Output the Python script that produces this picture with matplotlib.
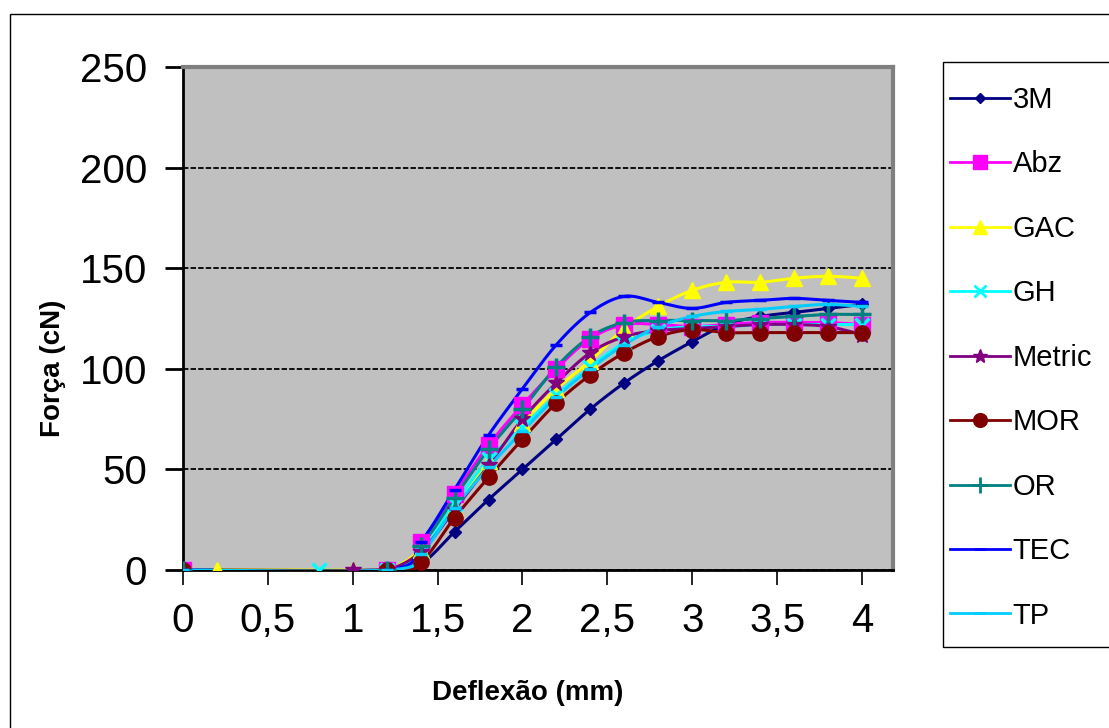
import numpy as np
import matplotlib
matplotlib.use("Agg")
import matplotlib.pyplot as plt
from matplotlib.patches import Rectangle

plt.rcParams['font.family'] = ['Liberation Sans', 'DejaVu Sans']

# deflexão (mm) comum a todos os fios, a partir de 1,2 mm
deflexao = [1.2, 1.4, 1.6, 1.8, 2.0, 2.2, 2.4, 2.6, 2.8, 3.0, 3.2, 3.4, 3.6, 3.8, 4.0]

# pontos iniciais (força nula) de cada fio
inicio_3m = [0.0]
inicio_abz = [0.0]
inicio_gac = [0.2, 1.0]
inicio_gh = [0.8]
inicio_metric = [1.0]
inicio_mor = [0.0]
inicio_or = [0.0]
inicio_tec = [0.0]
inicio_tp = [0.0]

# força (cN)
f_3m = [0, 3, 19, 35, 50, 65, 80, 93, 104, 113.5, 122, 126, 128, 130, 132]
f_abz = [0, 14, 38, 62, 82, 100, 115, 122, 122, 121, 122, 123, 123, 123, 122]
f_gac = [0, 10, 31, 54, 73, 90, 104, 120, 131, 139, 143, 143, 145, 146, 145]
f_gh = [0, 9, 33, 55, 71, 87, 101, 113, 119, 121, 121, 122, 122, 122, 122]
f_metric = [0, 9, 30, 52, 75, 93, 108, 116, 119, 120, 121, 122, 122, 121, 117]
f_mor = [0, 4, 26, 46, 65, 83, 97, 108, 116, 119.5, 118, 118, 118, 118, 118]
f_or = [0, 12, 36, 60, 80, 101, 116, 123, 124, 124, 124, 125, 126, 127, 127]
f_tec = [0, 14, 40, 67, 90, 112, 128, 136, 133, 130, 133, 134, 135, 134, 133]
f_tp = [0, 8, 31, 51, 69, 86, 100, 112, 121, 126, 128.5, 129.5, 131, 132, 131]

nomes = ['3M', 'Abz', 'GAC', 'GH', 'Metric', 'MOR', 'OR', 'TEC', 'TP']
inicios = [inicio_3m, inicio_abz, inicio_gac, inicio_gh, inicio_metric,
           inicio_mor, inicio_or, inicio_tec, inicio_tp]
forcas = [f_3m, f_abz, f_gac, f_gh, f_metric, f_mor, f_or, f_tec, f_tp]

cores = ['#000080', '#FF00FF', '#FFFF00', '#00FFFF', '#800080',
         '#800000', '#008080', '#0000FF', '#00CCFF']
marcadores = ['D', 's', '^', 'x', '*', 'o', '+', '_', '_']
tamanhos = [6, 11, 11, 10, 12, 11, 13, 9, 9]


def suaviza(x, y, n=12):
    # curva de Catmull-Rom passando pelos pontos (linha suavizada)
    x = np.asarray(x, float)
    y = np.asarray(y, float)
    px = np.concatenate([[x[0]], x, [x[-1]]])
    py = np.concatenate([[y[0]], y, [y[-1]]])
    xs, ys = [], []
    t = np.linspace(0, 1, n, endpoint=False)
    for i in range(1, len(px) - 2):
        for p, out in ((px, xs), (py, ys)):
            p0, p1, p2, p3 = p[i - 1], p[i], p[i + 1], p[i + 2]
            out.extend(0.5 * (2 * p1 + (-p0 + p2) * t
                              + (2 * p0 - 5 * p1 + 4 * p2 - p3) * t ** 2
                              + (-p0 + 3 * p1 - 3 * p2 + p3) * t ** 3))
    xs.append(x[-1])
    ys.append(y[-1])
    return np.array(xs), np.array(ys)


W, H = 1109, 728
fig = plt.figure(figsize=(W / 100, H / 100), dpi=100)
ax = fig.add_axes([183 / W, 1 - 570 / H, 710 / W, 503 / H])
ax.set_facecolor('#C0C0C0')

for nome, ini, f, cor, mk, ms in zip(nomes, inicios, forcas, cores, marcadores, tamanhos):
    x = list(ini) + deflexao
    y = [0] * len(ini) + f
    xs, ys = suaviza(x, y)
    ax.plot(xs, ys, color=cor, lw=2.2, zorder=3)
    ax.plot(x, y, ls='none', marker=mk, color=cor, ms=ms,
            mew=2.5 if mk in ('x', '+', '_') else 1, zorder=4)
    ax.plot([], [], color=cor, lw=2, marker=mk, ms=ms * 0.9,
            mew=2 if mk in ('x', '+', '_') else 1, label=nome)

ax.set_xlim(0, 4.183)
ax.set_ylim(0, 250)
ax.set_xticks(np.arange(0, 4.01, 0.5))
ax.set_xticklabels(['0', '0,5', '1', '1,5', '2', '2,5', '3', '3,5', '4'])
ax.set_yticks([0, 50, 100, 150, 200, 250])
ax.yaxis.grid(True, color='black', ls=(0, (3, 1.2)), lw=1.3)
ax.set_axisbelow(True)

ax.tick_params(axis='y', length=13, width=2, pad=13, labelsize=29)
ax.tick_params(axis='x', length=11, width=1.2, pad=12, labelsize=29)

for lado in ('left', 'bottom'):
    ax.spines[lado].set_color('black')
    ax.spines[lado].set_linewidth(2)
for lado in ('top', 'right'):
    ax.spines[lado].set_color('#808080')
    ax.spines[lado].set_linewidth(3)

ax.set_xlabel('Deflexão (mm)', fontsize=20, fontweight='bold')
ax.set_ylabel('Força (cN)', fontsize=20, fontweight='bold')
ax.xaxis.set_label_coords(0.486, -0.219)
ax.yaxis.set_label_coords(-0.165, 0.40)

# legenda sem moldura própria, dentro de uma caixa desenhada à parte
fig.legend(loc='upper left', bbox_to_anchor=(950 / W, 1 - 86 / H),
           frameon=False, fontsize=21, handlelength=2.05, handletextpad=0.1,
           labelspacing=1.25, borderpad=0, borderaxespad=0)
fig.patches.append(Rectangle((943 / W, 1 - 647 / H), 0.2, 585 / H,
                             transform=fig.transFigure, fill=False,
                             edgecolor='black', lw=1))

# moldura externa do gráfico
fig.patches.append(Rectangle((10 / W, -0.01), 1.0, 1 - 14 / H + 0.01,
                             transform=fig.transFigure, fill=False,
                             edgecolor='black', lw=1))

fig.savefig('out.png', dpi=100)
